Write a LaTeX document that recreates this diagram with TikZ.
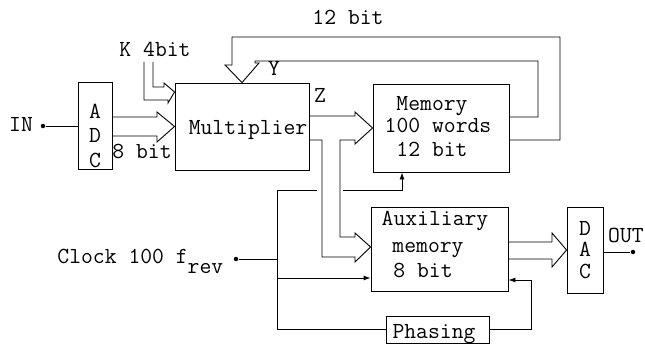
\documentclass[tikz,border=0pt]{standalone}
\usetikzlibrary{arrows.meta}
\begin{document}
\begin{tikzpicture}[x=1pt,y=-1pt,line width=0.9pt,
  box/.style={draw,rectangle,inner sep=0pt},
  lbl/.style={anchor=base,inner sep=0pt,font=\ttfamily\fontsize{23}{25}\selectfont},
  dot/.style={circle,fill,inner sep=0pt,minimum size=4.5pt},
  tip/.style={-{Latex[length=7pt,width=5pt]}}]
\useasboundingbox (0,0) rectangle (645,345);
% boxes
\node[box,minimum width=34pt,minimum height=87pt] (adc) at (95,125.5) {};
\node[box,minimum width=134pt,minimum height=87pt] (mult) at (242,126.5) {};
\node[box,minimum width=136pt,minimum height=88pt] (mem) at (441,128) {};
\node[box,minimum width=137pt,minimum height=84pt] (aux) at (439.5,249) {};
\node[box,minimum width=36pt,minimum height=86pt] (dac) at (585,250) {};
\node[box,minimum width=103pt,minimum height=27pt] (phase) at (437.5,329.5) {};
% texts
\node[lbl] (tin) at (21,131) {IN};
\node[lbl] (ta1) at (95,118) {A};
\node[lbl] (td1) at (95,142) {D};
\node[lbl] (tc1) at (95,167) {C};
\node[lbl] (t8a) at (142,158) {8 bit};
\node[lbl] (tk) at (155,57) {K 4bit};
\node[lbl] (ty) at (274,76) {Y};
\node[lbl] (tz) at (320,102) {Z};
\node[lbl] (t12) at (348,25) {12 bit};
\node[lbl] (tmul) at (248,134) {Multiplier};
\node[lbl] (tm1) at (432,110) {Memory};
\node[lbl] (tm2) at (438,132) {100 words};
\node[lbl] (tm3) at (432,156) {12 bit};
\node[lbl] (ta1x) at (435,225) {Auxiliary};
\node[lbl] (ta2x) at (428,252) {memory};
\node[lbl] (ta3x) at (423,277) {8 bit};
\node[lbl] (td2) at (585,235) {D};
\node[lbl] (ta2) at (585,256) {A};
\node[lbl] (tc2) at (585,278) {C};
\node[lbl] (tout) at (626,242) {OUT};
\node[lbl] (tph) at (434,338) {Phasing};
\node[lbl,anchor=base west] (tclk) at (57,263) {Clock 100 f\raisebox{-10pt}{rev}};
% dots
\node[dot] (indot) at (43,126) {};
\node[dot] (clk) at (236,259) {};
\node[dot] (outdot) at (633,252) {};
% IN to ADC
\draw (indot) -- (indot -| adc.west);
% ADC -> Multiplier bus
\draw (adc.east |- 0,117) -- (157,117) -- (157,112) -- (mult.west)
  -- (157,142) -- (157,136) -- (adc.east |- 0,136);
% K 4bit bus
\draw (144,62) -- (144,100) -- (168,100) -- (168,103) -- (mult.west |- 0,92)
  -- (164,83) -- (164,87) -- (153,87) -- (153,62);
% feedback Y bus
\draw (mem.east |- 0,140) -| (560,37) -| (232,65) -- (225,65) -- (mult.north)
  -- (259,63) -- (255,63) |- (538,61) |- (mem.east |- 0,117);
% Multiplier -> Memory and Auxiliary buses
\draw (mult.east |- 0,116) -- (355,116) -- (355,112) -- (mem.west |- 0,128)
  -- (355,144) -- (355,140) -- (340,140) -- (340,237) -- (355,237) -- (355,233)
  -- (aux.west |- 0,247) -- (355,262) -- (355,257) -- (322,257) -- (322,140)
  -- (mult.east |- 0,140);
% Aux -> DAC bus
\draw (aux.east |- 0,242) -- (552,242) -- (552,233) -- (dac.west)
  -- (552,267) -- (552,259) -- (aux.east |- 0,259);
% DAC -> OUT
\draw (outdot -| dac.east) -- (outdot);
% clock
\draw (clk) -- (277,259);
\draw (317,190) -- (277,190) |- (phase.west);
\draw[tip] (343,190) -| (mem.south -| 402,0);
\draw[tip] (277,278) -- (aux.west |- 0,278);
\draw[tip] (phase.east) -| (531,280) -- (aux.east |- 0,280);
\end{tikzpicture}
\end{document}
